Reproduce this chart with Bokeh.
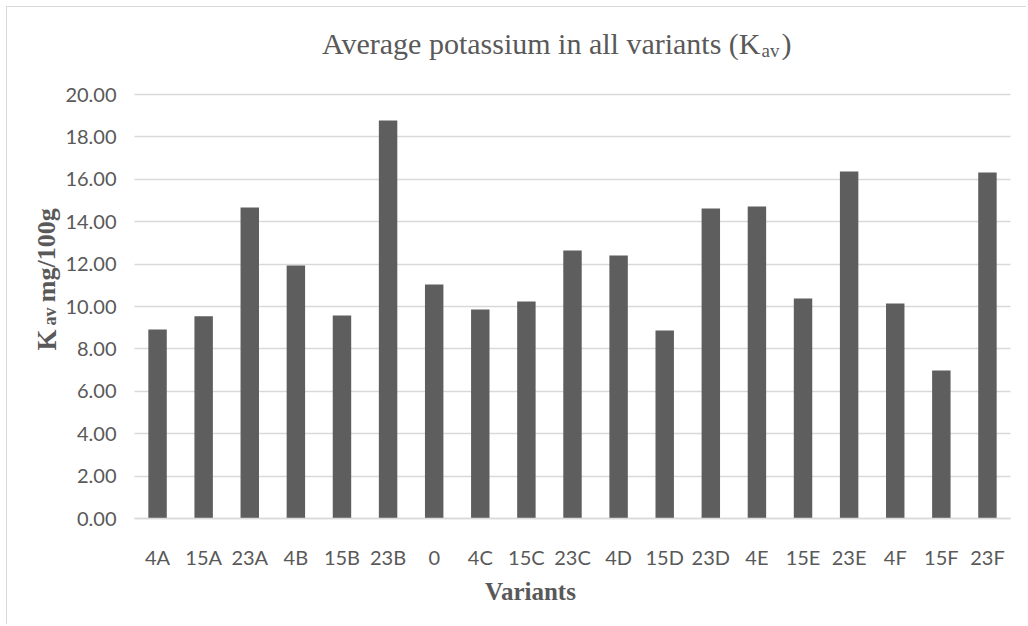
from bokeh.plotting import figure
from bokeh.models import (Range1d, SingleIntervalTicker, FixedTicker,
                          NumeralTickFormatter, Label, ColumnDataSource)
from bokeh.embed import file_html
from bokeh.resources import INLINE
from math import pi

# ---- data -------------------------------------------------------------
variants = ["4A", "15A", "23A", "4B", "15B", "23B", "0", "4C", "15C", "23C",
            "4D", "15D", "23D", "4E", "15E", "23E", "4F", "15F", "23F"]
k_av = [8.92, 9.54, 14.67, 11.93, 9.58, 18.77, 11.04, 9.86, 10.24, 12.64,
        12.41, 8.87, 14.62, 14.72, 10.38, 16.37, 10.14, 6.98, 16.32]
y_min, y_max, y_step = 0, 20, 2

title_main = "Average potassium in all variants (K"
title_sub = "av"
title_end = ")"
ylab_main = "K"
ylab_sub = "av"
ylab_end = "mg/100g"
xlab = "Variants"

TXT = "#595959"
BAR = "#5e5e5e"
GRID = "#d9d9d9"
SANS = "Lato"
SERIF = "Liberation Serif"

n = len(variants)
centers = [i + 0.5 for i in range(n)]          # category slot centres
source = ColumnDataSource(data=dict(x=centers, k=k_av, variant=variants))

# the frame spans the whole canvas; axes are pinned at the data origin
p = figure(x_range=Range1d(-2.7546, 19.3687), y_range=Range1d(-5.047, 24.104),
           width=1020, height=618, min_border=0,
           output_backend="svg", toolbar_location=None)
p.styles = {"margin-left": "6px", "margin-top": "6px",
            "border-left": "1px solid #d9d9d9", "border-top": "1px solid #d9d9d9"}

p.vbar(x="x", top="k", width=0.4, source=source,
       fill_color=BAR, line_color=None)

p.outline_line_color = None
p.background_fill_color = "white"
p.border_fill_color = "white"
p.xgrid.grid_line_color = None
p.ygrid.grid_line_color = GRID
p.ygrid.grid_line_width = 1.3
p.ygrid.bounds = (y_min, y_max)
p.ygrid.cross_bounds = (0, n)

p.yaxis.fixed_location = 0
p.yaxis.bounds = (y_min, y_max)
p.yaxis.ticker = SingleIntervalTicker(interval=y_step)
p.yaxis.formatter = NumeralTickFormatter(format="0.00")
p.yaxis.axis_line_color = None
p.yaxis.major_tick_line_color = None
p.yaxis.minor_tick_line_color = None
p.yaxis.major_tick_in = 0
p.yaxis.major_tick_out = 0
p.yaxis.major_label_standoff = 14
p.yaxis.major_label_text_font = SANS
p.yaxis.major_label_text_font_size = "20px"
p.yaxis.major_label_text_color = TXT

p.xaxis.fixed_location = 0
p.xaxis.bounds = (0, n)
p.xaxis.ticker = FixedTicker(ticks=centers)
p.xaxis.major_label_overrides = {c: v for c, v in zip(centers, variants)}
p.xaxis.axis_line_color = GRID
p.xaxis.axis_line_width = 1.3
p.xaxis.major_tick_line_color = None
p.xaxis.minor_tick_line_color = None
p.xaxis.major_tick_in = 0
p.xaxis.major_tick_out = 0
p.xaxis.major_label_standoff = 26
p.xaxis.major_label_text_font = SANS
p.xaxis.major_label_text_font_size = "20px"
p.xaxis.major_label_text_color = TXT

# text labels placed in data coordinates (x: category slots, y: mg/100g)
def lab(text, x, y, size, **kw):
    p.add_layout(Label(x=x, y=y, text=text, text_font_size=size,
                       text_color=TXT, **kw))

# title
lab(title_main, 13.578, 22.406, "30px", text_font=SERIF, text_align="right",
    text_baseline="alphabetic")
lab(title_sub, 13.60, 22.09, "19px", text_font=SERIF, text_align="left",
    text_baseline="alphabetic")
lab(title_end, 14.033, 22.406, "30px", text_font=SERIF, text_align="left",
    text_baseline="alphabetic")

# y axis title (rotated)
lab(ylab_main, -1.903, 7.925, "27px", text_font=SERIF, text_font_style="bold",
    angle=pi / 2, text_align="left", text_baseline="alphabetic")
lab(ylab_sub, -1.822, 9.104, "18px", text_font=SERIF, text_font_style="bold",
    angle=pi / 2, text_align="left", text_baseline="alphabetic")
lab(ylab_end, -1.903, 10.203, "26px", text_font=SERIF, text_font_style="bold",
    angle=pi / 2, text_align="left", text_baseline="alphabetic")

# x axis title
lab(xlab, 8.589, -3.43, "25px", text_font=SERIF, text_font_style="bold",
    text_align="center", text_baseline="alphabetic")

open("out.html", "w").write(file_html(p, INLINE))
